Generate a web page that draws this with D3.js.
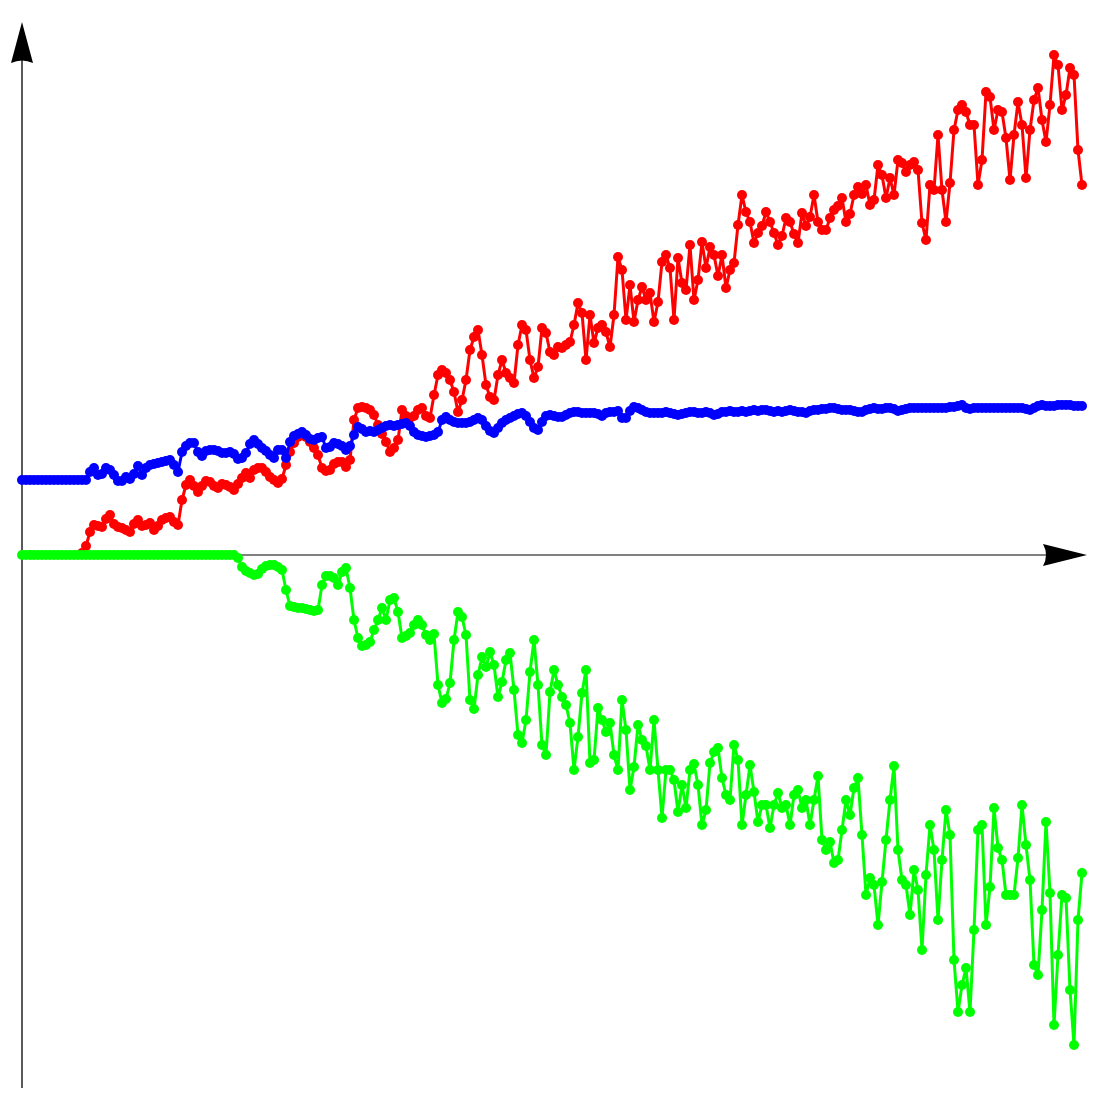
<!DOCTYPE html>
<html>
<head>
<meta charset="utf-8">
<script src="https://cdn.jsdelivr.net/npm/d3@7"></script>
<style>
  body { margin: 0; background: #fff; }
</style>
</head>
<body>
<svg id="chart" width="1111" height="1111"></svg>
<script>
// values, one per step on the x index
const redStart = 15;
const redValues = [
    2,9,23,30,29,
    28,36,40,31,28,27,25,23,31,35,
    29,30,32,25,29,35,37,38,33,30,
    55,70,75,69,63,69,74,73,69,67,
    71,70,68,65,71,77,82,77,85,87,
    87,83,78,75,72,76,90,103,112,118,
    120,118,113,107,100,87,84,85,91,93,
    93,88,95,135,147,148,147,145,140,130,
    121,113,103,107,115,145,139,137,139,145,
    147,139,137,160,180,185,182,175,163,143,
    155,175,205,218,225,200,170,158,155,180,
    195,182,177,172,210,230,225,195,177,188,
    227,222,203,200,208,207,210,213,230,252,
    242,195,240,212,227,230,223,208,240,298,
    285,235,270,233,255,268,255,262,233,253,
    293,300,287,235,297,272,265,310,255,275,
    313,287,308,300,279,300,267,285,292,330,
    360,343,333,312,322,329,343,333,322,310,
    319,337,333,321,312,342,329,338,360,333,
    325,325,337,345,349,357,333,341,360,368,
    361,370,350,355,390,380,357,377,360,395,
    392,383,390,393,385,332,315,370,365,420,
    365,333,372,425,445,450,443,430,430,370,
    395,463,458,425,445,443,417,375,420,453,
    430,377,425,455,467,435,413,450,500,490,
    445,460,487,480,405,370
];

const blueValues = [
    75,75,75,75,75,75,75,75,75,75,
    75,75,75,75,75,75,75,83,87,80,
    81,87,85,80,74,74,78,76,81,89,
    80,87,90,91,92,93,94,95,90,83,
    103,109,112,112,103,99,104,105,105,104,
    102,102,103,101,96,97,102,111,115,111,
    107,104,100,97,105,105,97,113,119,121,
    123,120,116,115,117,118,107,108,112,111,
    109,105,109,120,128,126,123,124,123,125,
    127,129,130,129,130,131,132,129,123,120,
    119,118,119,120,123,135,138,135,133,132,
    132,132,133,135,137,135,129,124,122,127,
    132,135,137,139,141,142,139,133,127,125,
    133,139,140,139,138,138,140,142,143,143,
    142,142,142,142,141,139,142,143,143,144,
    137,137,144,148,147,145,143,142,142,142,
    142,143,142,141,140,141,142,143,143,142,
    142,143,142,140,141,143,143,144,143,143,
    144,143,144,145,144,145,145,144,143,144,
    143,144,145,144,143,143,142,144,145,145,
    146,146,147,147,146,145,145,145,144,143,
    143,145,146,147,146,146,147,147,146,144,
    145,146,147,147,147,147,147,147,147,147,
    147,147,148,148,149,150,147,146,147,147,
    147,147,147,147,147,147,147,147,147,147,
    147,146,145,147,149,150,149,149,149,150,
    150,150,150,149,149,149
];

const greenValues = [
    0,0,0,0,0,0,0,0,0,0,
    0,0,0,0,0,0,0,0,0,0,
    0,0,0,0,0,0,0,0,0,0,
    0,0,0,0,0,0,0,0,0,0,
    0,0,0,0,0,0,0,0,0,0,
    0,0,0,0,-3,-12,-16,-18,-20,-19,
    -14,-11,-10,-10,-12,-15,-35,-51,-52,-53,
    -53,-54,-55,-56,-55,-30,-21,-21,-23,-30,
    -17,-13,-33,-65,-83,-91,-90,-87,-75,-65,
    -53,-65,-45,-43,-57,-83,-81,-78,-70,-65,
    -70,-80,-85,-79,-130,-148,-144,-128,-85,-57,
    -62,-80,-145,-154,-120,-102,-112,-97,-110,-142,
    -127,-105,-98,-135,-180,-188,-165,-117,-85,-130,
    -190,-200,-137,-115,-130,-142,-150,-168,-215,-182,
    -138,-115,-208,-205,-153,-165,-177,-168,-200,-215,
    -145,-175,-235,-212,-170,-185,-191,-215,-165,-215,
    -263,-215,-215,-225,-257,-230,-253,-215,-209,-230,
    -270,-255,-208,-197,-193,-223,-240,-245,-190,-205,
    -270,-240,-210,-237,-267,-250,-250,-273,-250,-238,
    -253,-250,-270,-240,-235,-253,-245,-270,-245,-221,
    -285,-295,-287,-308,-305,-275,-245,-260,-233,-223,
    -280,-340,-323,-330,-370,-327,-285,-245,-211,-295,
    -325,-330,-360,-315,-335,-395,-320,-270,-295,-365,
    -305,-255,-280,-405,-457,-430,-413,-457,-375,-275,
    -270,-370,-332,-253,-293,-305,-340,-340,-340,-303,
    -250,-290,-325,-410,-420,-355,-267,-338,-470,-400,
    -340,-343,-435,-490,-365,-318
];

var svg = d3.select("#chart");

var x = d3.scaleLinear().domain([0, 266.25]).range([22, 1087]);
var y = d3.scaleLinear().domain([-533, 533]).range([1088, 22]);

// axes, no ticks, arrow heads at the ends
var x0 = x(0), y0 = y(0);
var tipY = y(533), tipX = x(266.25);

svg.append("line")
    .attr("x1", tipX - 40).attr("x2", x0)
    .attr("y1", y0).attr("y2", y0)
    .attr("stroke", "#808080")
    .attr("stroke-width", 2);

svg.append("line")
    .attr("x1", x0).attr("x2", x0)
    .attr("y1", y(-533)).attr("y2", tipY + 36)
    .attr("stroke", "#000")
    .attr("stroke-width", 1.3);

svg.append("path")
    .attr("d", `M${x0},${tipY} L${x0 + 11},${tipY + 41} Q${x0},${tipY + 36} ${x0 - 11},${tipY + 41} Z`)
    .attr("fill", "#000");

svg.append("path")
    .attr("d", `M${tipX},${y0} L${tipX - 44},${y0 - 11} Q${tipX - 38},${y0} ${tipX - 44},${y0 + 11} Z`)
    .attr("fill", "#000");

function drawSeries(values, start, color) {
    let pts = values.map(function(v, i) { return {i: i + start, v: v}; });

    let line = d3.line()
        .x(function(d) { return x(d.i); })
        .y(function(d) { return y(d.v); });

    let g = svg.append("g");

    g.append("path")
        .datum(pts)
        .attr("d", line)
        .attr("fill", "none")
        .attr("stroke", color)
        .attr("stroke-width", 3)
        .attr("stroke-linejoin", "round");

    g.selectAll("circle")
        .data(pts)
        .enter()
        .append("circle")
        .attr("cx", function(d) { return x(d.i); })
        .attr("cy", function(d) { return y(d.v); })
        .attr("r", 5)
        .attr("fill", color);
}

drawSeries(redValues, redStart, "#ff0000");
drawSeries(blueValues, 0, "#0000ff");
drawSeries(greenValues, 0, "#00ff00");
</script>
</body>
</html>
